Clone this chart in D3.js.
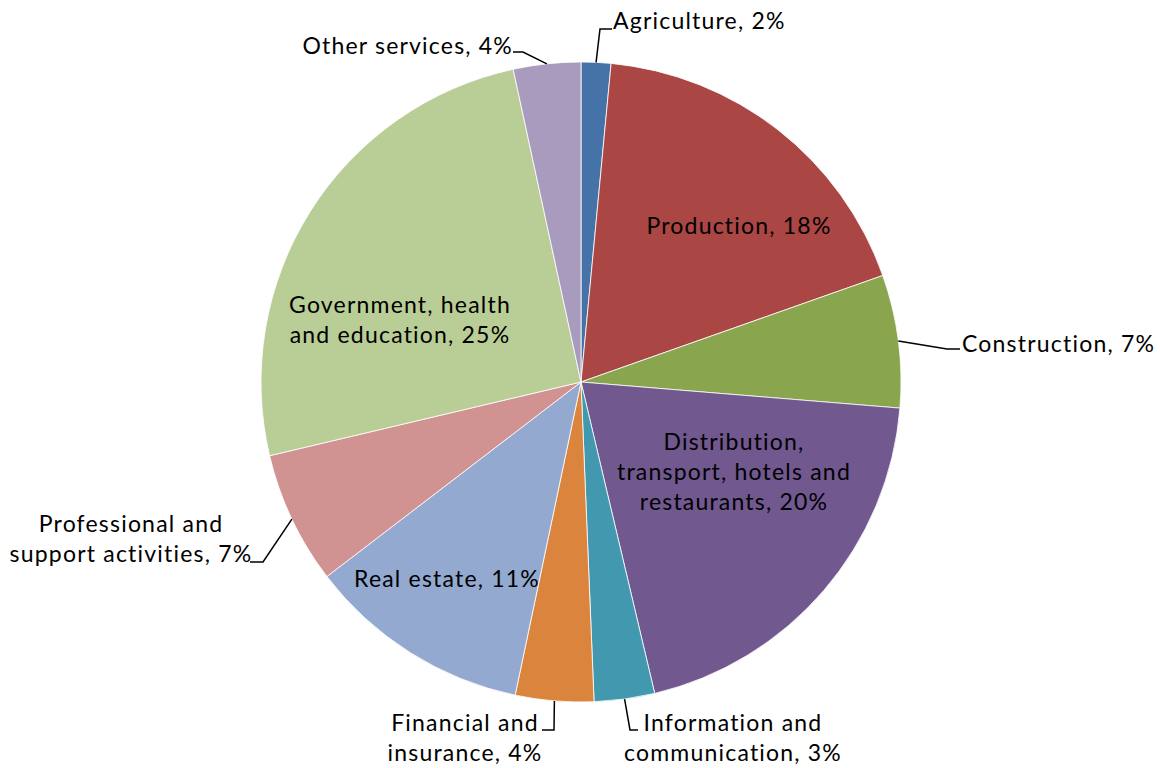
<!DOCTYPE html>
<html><head><meta charset="utf-8">
<script src="https://cdn.jsdelivr.net/npm/d3@7"></script>
<style>
html,body{margin:0;padding:0;background:#fff;}
svg text{font-family:Lato,"Open Sans",sans-serif;font-size:23px;letter-spacing:1.2px;fill:#000;}
</style></head>
<body>
<svg id="chart" width="1160" height="768"></svg>
<script>
// ---- data ----
const categories = ["Agriculture","Production","Construction","Distribution, transport, hotels and restaurants","Information and communication","Financial and insurance","Real estate","Professional and support activities","Government, health and education","Other services"];
const shares = [1.5, 18.1, 6.7, 20.0, 3.05, 3.95, 11.3, 6.7, 25.3, 3.4];
const shareLabels = ["2%","18%","7%","20%","3%","4%","11%","7%","25%","4%"];
const colors = ["#4572A7","#AA4643","#89A54E","#71588F","#4198AF","#DB843D","#93A9CF","#D19392","#B9CD96","#A99BBD"];

// ---- label layout (lines, centre, anchor, optional leader) ----
const labelLines = [
  ["Agriculture, 2%"],
  ["Production, 18%"],
  ["Construction, 7%"],
  ["Distribution,","transport, hotels and","restaurants, 20%"],
  ["Information and","communication, 3%"],
  ["Financial and","insurance, 4%"],
  ["Real estate, 11%"],
  ["Professional and","support activities, 7%"],
  ["Government, health","and education, 25%"],
  ["Other services, 4%"]
];
const labelPos = [
  {x:613,y:20,anchor:"start",leader:[[600,29],[612,29]]},
  {x:739,y:225,anchor:"middle"},
  {x:962,y:343,anchor:"start",leader:[[947,349],[960,349]]},
  {x:734,y:471,anchor:"middle"},
  {x:733,y:737,anchor:"middle",leader:[[630,730],[638,730]]},
  {x:465,y:737,anchor:"middle",leader:[[554,730],[542,730]]},
  {x:447,y:578,anchor:"middle"},
  {x:131,y:538,anchor:"middle",leader:[[263,562],[250,562]]},
  {x:400,y:319,anchor:"middle"},
  {x:513,y:45,anchor:"end",leader:[[523,52],[513,52]]}
];

const cx = 581, cy = 382, R = 320, lineH = 30;
const svg = d3.select("#chart");
const g = svg.append("g").attr("transform", `translate(${cx},${cy})`);

const pie = d3.pie().sort(null).value(d => d.v);
const arcs = pie(shares.map((v,i) => ({v, i})));
const arc = d3.arc().innerRadius(0).outerRadius(R);

g.selectAll("path.slice").data(arcs).join("path")
  .attr("class","slice")
  .attr("d", arc)
  .attr("fill", d => colors[d.data.i])
  .attr("stroke", "#fff").attr("stroke-width", 0.8);

// leaders
arcs.forEach((a, i) => {
  const p = labelPos[i];
  if (!p.leader) return;
  const mid = (a.startAngle + a.endAngle) / 2;
  const start = [cx + R * Math.sin(mid), cy - R * Math.cos(mid)];
  const pts = [start, ...p.leader];
  svg.append("path")
    .attr("d", d3.line()(pts))
    .attr("fill","none").attr("stroke","#000").attr("stroke-width",1.5);
});

// labels
labelLines.forEach((lines, i) => {
  const p = labelPos[i];
  const t = svg.append("text")
    .attr("text-anchor", p.anchor)
    .attr("dominant-baseline","central");
  const n = lines.length;
  lines.forEach((ln, k) => {
    t.append("tspan").attr("x", p.x)
      .attr("y", p.y + (k - (n - 1) / 2) * lineH)
      .text(ln);
  });
});
</script>
</body></html>
